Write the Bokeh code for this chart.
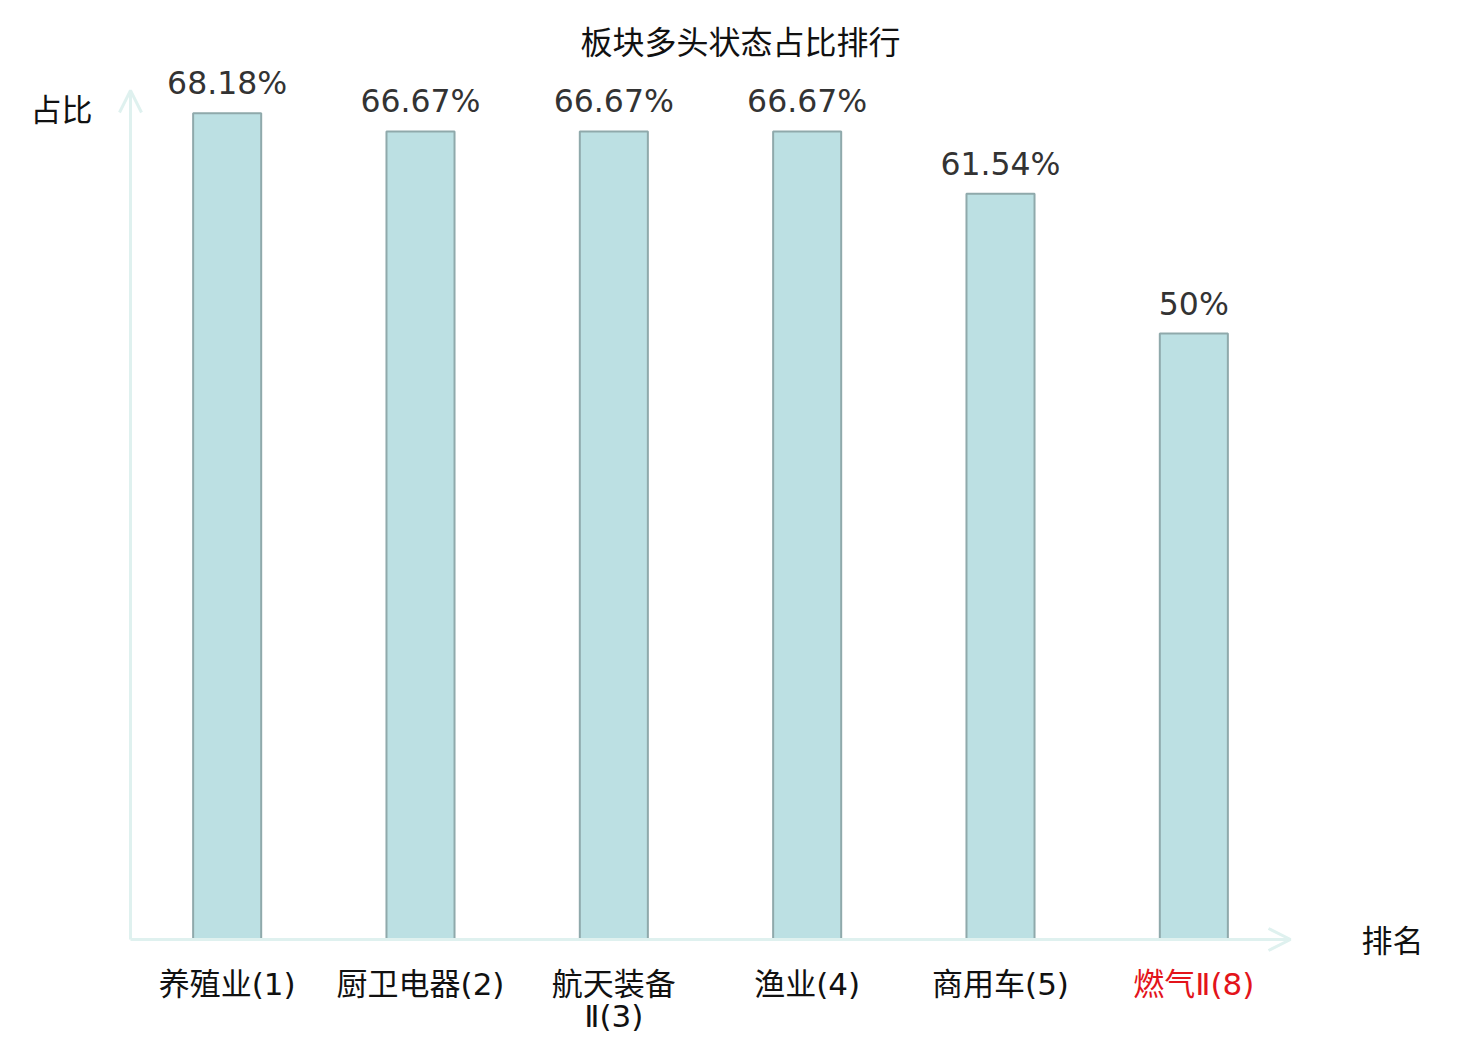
from bokeh.plotting import figure
from bokeh.models import ColumnDataSource, LabelSet, Label, Range1d, Arrow, OpenHead
from bokeh.core.properties import value
from bokeh.embed import file_html
from bokeh.resources import INLINE

# ---- data ----
categories = ["养殖业(1)", "厨卫电器(2)", "航天装备Ⅱ(3)", "渔业(4)", "商用车(5)", "燃气Ⅱ(8)"]
tick_line1 = ["养殖业(1)", "厨卫电器(2)", "航天装备", "渔业(4)", "商用车(5)", "燃气Ⅱ(8)"]
tick_line2 = ["", "", "Ⅱ(3)", "", "", ""]
shares = [68.18, 66.67, 66.67, 66.67, 61.54, 50.0]
highlight = "燃气Ⅱ(8)"
title_text = "板块多头状态占比排行"
y_name = "占比"
x_name = "排名"

CJK = "Noto Sans CJK SC"
LABEL_FONT = "'DejaVu Sans', 'Noto Sans CJK SC'"
AXIS_COLOR = "#dff1ef"
Y_MAX = 70.05

# ---- layout (pixels) ----
W, H = 1476, 1036
AX_LEFT, AX_RIGHT, AX_TOP, AX_BASE = 130, 1290, 90, 939
n = len(categories)
ux = (AX_RIGHT - AX_LEFT) / n
uy = (AX_BASE - AX_TOP) / Y_MAX
x_range = Range1d(-AX_LEFT / ux, (W - AX_LEFT) / ux)
y_range = Range1d(-(H - AX_BASE) / uy, AX_BASE / uy)

pos = [i + 0.5 for i in range(n)]
src = ColumnDataSource(dict(
    x=pos,
    cat=categories,
    share=shares,
    vlabel=[f"{v:g}%" for v in shares],
    line1=tick_line1,
    line2=tick_line2,
    zero=[0] * n,
    tcolor=["#e3141b" if c == highlight else "#111111" for c in categories],
))

p = figure(
    x_range=x_range, y_range=y_range,
    width=W, height=H,
    output_backend="svg", toolbar_location=None,
    min_border=0,
)
p.axis.visible = False
p.grid.visible = False
p.outline_line_color = None
p.background_fill_color = "white"
p.border_fill_color = "white"

p.vbar(x="x", top="share", width=0.352, source=src,
       fill_color="#bce0e3", line_color="#8fa9ab", line_width=2)

# axes with arrows
p.add_layout(Arrow(x_start=0, y_start=0, x_end=0, y_end=Y_MAX,
                   line_color=AXIS_COLOR, line_width=3,
                   end=OpenHead(size=22, line_color=AXIS_COLOR, line_width=3)))
p.add_layout(Arrow(x_start=0, y_start=0, x_end=n, y_end=0,
                   line_color=AXIS_COLOR, line_width=3,
                   end=OpenHead(size=22, line_color=AXIS_COLOR, line_width=3)))

# value labels
p.add_layout(LabelSet(x="x", y="share", text="vlabel", source=src,
                      text_align="center", text_baseline="alphabetic", y_offset=19,
                      text_font=value("DejaVu Sans"), text_font_size="31.5px",
                      text_color="#333333"))

# category labels (two lines)
for field, off in (("line1", -44), ("line2", -76)):
    p.add_layout(LabelSet(x="x", y="zero", text=field, source=src,
                          text_align="center", text_baseline="middle", y_offset=off,
                          text_font=value(LABEL_FONT), text_font_size="31px",
                          text_color="tcolor"))

# axis names and title
p.add_layout(Label(x=0, y=Y_MAX, x_offset=-38, y_offset=-17, text=y_name,
                   text_align="right", text_baseline="middle",
                   text_font=CJK, text_font_size="31px", text_color="#111111"))
p.add_layout(Label(x=n, y=0, x_offset=102, y_offset=1, text=x_name,
                   text_align="center", text_baseline="middle",
                   text_font=CJK, text_font_size="31px", text_color="#111111"))
p.add_layout(Label(x=n / 2, y=Y_MAX, x_offset=30, y_offset=51, text=title_text,
                   text_align="center", text_baseline="middle",
                   text_font=CJK, text_font_size="32px", text_color="#111111"))

open("out.html", "w").write(file_html(p, INLINE))
